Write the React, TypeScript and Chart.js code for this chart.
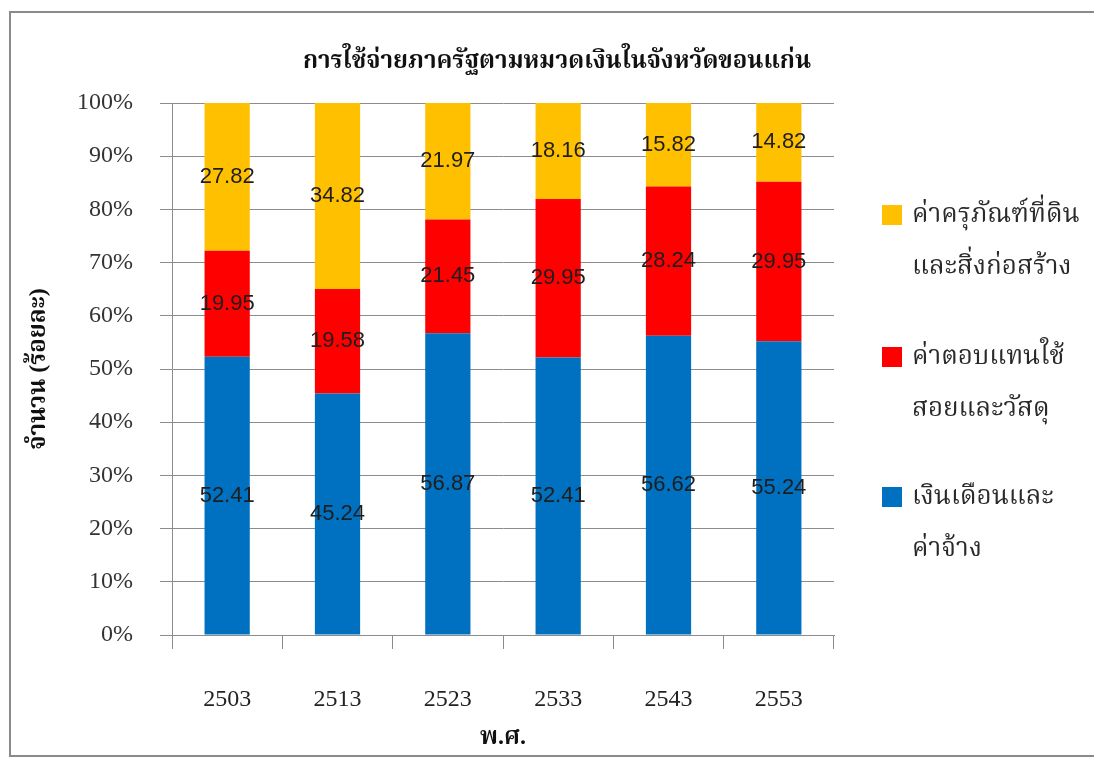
import React, { useEffect, useRef } from "react";
import { Chart, registerables } from "chart.js";

Chart.register(...registerables);

const years = ["2503", "2513", "2523", "2533", "2543", "2553"];
const salaries = [52.41, 45.24, 56.87, 52.41, 56.62, 55.24];
const compensation = [19.95, 19.58, 21.45, 29.95, 28.24, 29.95];
const capital = [27.82, 34.82, 21.97, 18.16, 15.82, 14.82];

const seriesNames = [
  ["เงินเดือนและ", "ค่าจ้าง"],
  ["ค่าตอบแทนใช้", "สอยและวัสดุ"],
  ["ค่าครุภัณฑ์ที่ดิน", "และสิ่งก่อสร้าง"],
];
const seriesColors = ["#0070C0", "#FF0000", "#FFC000"];

const titleText = "การใช้จ่ายภาครัฐตามหมวดเงินในจังหวัดขอนแก่น";
const yTitleText = "จำนวน (ร้อยละ)";
const xTitleText = "พ.ศ.";

const SERIF = "'Liberation Serif', 'Noto Serif Thai', 'Noto Sans Thai', 'Garuda', serif";
const SANS = "'Liberation Sans', 'Noto Sans Thai', Arial, sans-serif";

const rawSeries = [salaries, compensation, capital];
const totals = years.map((_, i) => rawSeries.reduce((s, arr) => s + arr[i], 0));
const percentSeries = rawSeries.map((arr) => arr.map((v, i) => (v / totals[i]) * 100));

const valueLabelPlugin = {
  id: "valueLabels",
  afterDatasetsDraw(chart: any) {
    const ctx = chart.ctx;
    ctx.save();
    ctx.font = `22px ${SANS}`;
    ctx.fillStyle = "#1e1e1e";
    ctx.textAlign = "center";
    ctx.textBaseline = "middle";
    chart.data.datasets.forEach((ds: any, di: number) => {
      const meta = chart.getDatasetMeta(di);
      meta.data.forEach((el: any, i: number) => {
        const raw = rawSeries[di][i];
        const y = (el.y + el.base) / 2;
        ctx.fillText(raw.toFixed(2), el.x, y);
      });
    });
    ctx.restore();
  },
};

const titlePlugin = {
  id: "centeredTitle",
  afterDraw(chart: any) {
    const ctx = chart.ctx;
    ctx.save();
    ctx.font = `bold 24px ${SERIF}`;
    ctx.fillStyle = "#111";
    ctx.textAlign = "center";
    ctx.textBaseline = "middle";
    ctx.fillText(titleText, 557, 62);
    ctx.restore();
  },
};

const sideLegendPlugin = {
  id: "sideLegend",
  afterDraw(chart: any) {
    const ctx = chart.ctx;
    const area = chart.chartArea;
    const x0 = area.right + 48;
    const tops = [205, 347, 487];
    ctx.save();
    ctx.font = `26px ${SERIF}`;
    ctx.textBaseline = "middle";
    ctx.textAlign = "left";
    const order = [2, 1, 0];
    order.forEach((di, k) => {
      const top = tops[k];
      ctx.fillStyle = seriesColors[di];
      ctx.fillRect(x0, top, 20, 20);
      ctx.fillStyle = "#2a2a2a";
      seriesNames[di].forEach((line, li) => {
        ctx.fillText(line, x0 + 30, top + 10 + li * 52);
      });
    });
    ctx.restore();
  },
};

export default function App() {
  const ref = useRef<HTMLCanvasElement | null>(null);
  useEffect(() => {
    document.body.style.margin = "0";
    const canvas = ref.current;
    if (!canvas) return;
    const chart = new Chart(canvas, {
      type: "bar",
      data: {
        labels: years,
        datasets: percentSeries.map((arr, di) => ({
          label: seriesNames[di].join(""),
          data: arr,
          backgroundColor: seriesColors[di],
          borderWidth: 0,
          barPercentage: 0.41,
          categoryPercentage: 1,
        })),
      },
      options: {
        responsive: false,
        animation: false,
        layout: { padding: { left: 20, right: 260, top: 103, bottom: 0 } },
        plugins: {
          legend: { display: false },
          tooltip: { enabled: false },
          title: { display: false },
        },
        scales: {
          x: {
            stacked: true,
            grid: {
              offset: true,
              drawOnChartArea: false,
              drawTicks: true,
              tickLength: 14,
              color: "#8c8c8c",
            },
            border: { color: "#8c8c8c" },
            ticks: {
              padding: 36,
              color: "#222",
              font: { family: SERIF, size: 24 },
              maxRotation: 0,
            },
            title: {
              display: true,
              text: xTitleText,
              color: "#111",
              font: { family: SERIF, size: 24, weight: "bold", lineHeight: 1.2 },
              padding: { top: 0, bottom: 6 },
            },
            afterFit(scale: any) {
              scale.height = 123;
            },
          },
          y: {
            stacked: true,
            min: 0,
            max: 100,
            grid: {
              color: "#8c8c8c",
              tickLength: 12,
            },
            border: { color: "#8c8c8c" },
            ticks: {
              stepSize: 10,
              padding: 27,
              color: "#333",
              font: { family: SERIF, size: 24 },
              callback: (v: any) => `${v}%`,
            },
            title: {
              display: true,
              text: yTitleText,
              color: "#111",
              font: { family: SERIF, size: 24, weight: "bold", lineHeight: 1.2 },
              padding: { top: 4, bottom: 0 },
            },
            afterFit(scale: any) {
              scale.width = 152;
            },
          },
        },
      },
      plugins: [valueLabelPlugin, titlePlugin, sideLegendPlugin],
    });
    return () => chart.destroy();
  }, []);

  return (
    <div style={{ position: "relative", width: 1094, height: 758, overflow: "hidden", background: "#fff" }}>
      <div
        style={{
          position: "absolute",
          left: 9,
          top: 11,
          width: 1300,
          height: 742,
          border: "2px solid #8a8a8a",
          borderRight: "none",
        }}
      />
      <canvas ref={ref} width={1094} height={758} style={{ position: "absolute", left: 0, top: 0 }} />
    </div>
  );
}
